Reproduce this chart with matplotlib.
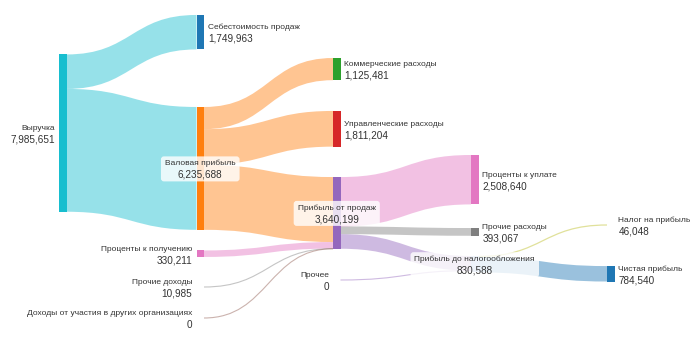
import matplotlib
matplotlib.use("Agg")
import matplotlib.pyplot as plt
from matplotlib.path import Path
from matplotlib.patches import PathPatch, Rectangle, FancyBboxPatch

plt.rcParams['font.family'] = ['Liberation Sans', 'DejaVu Sans']

# ---------------- data ----------------
node_labels = [
    "Выручка", "Себестоимость продаж", "Валовая прибыль",
    "Проценты к получению", "Прочие доходы", "Доходы от участия в других организациях",
    "Коммерческие расходы", "Управленческие расходы", "Прибыль от продаж", "Прочее",
    "Проценты к уплате", "Прочие расходы", "Прибыль до налогообложения",
    "Налог на прибыль", "Чистая прибыль",
]
node_values = [7985651, 1749963, 6235688, 330211, 10985, 0,
               1125481, 1811204, 3640199, 0,
               2508640, 393067, 830588, 46048, 784540]

link_source = [0, 0, 2, 2, 2, 3, 4, 5, 8, 8, 8, 9, 12, 12]
link_target = [1, 2, 6, 7, 8, 8, 8, 8, 10, 11, 12, 12, 13, 14]
link_values = [1749963, 6235688, 1125481, 1811204, 3299003, 330211, 10985, 0,
               2508640, 393067, 738492, 0, 46048, 784540]

# ---------------- styles / layout ----------------
node_colors = ["#17becf", "#1f77b4", "#ff7f0e", "#e377c2", "#7f7f7f", "#8c564b",
               "#2ca02c", "#d62728", "#9467bd", "#9467bd",
               "#e377c2", "#7f7f7f", "#aec7e8", "#bcbd22", "#1f77b4"]
link_colors = ["#17becf", "#17becf", "#ff7f0e", "#ff7f0e", "#ff7f0e", "#e377c2",
               "#7f7f7f", "#8c564b", "#e377c2", "#7f7f7f", "#9467bd", "#9467bd",
               "#bcbd22", "#1f77b4"]
node_col = [0, 1, 1, 1, 1, 1, 2, 2, 2, 2, 3, 3, 3, 4, 4]
# node centres (plotly-like node.y, in pixel units of a 350px-high canvas)
node_yc = [133.1, 32.2, 168.4, 253.7, 287, 318, 69.1, 128.8, 212.9, 280,
           179.7, 231.9, 264.2, 225, 273.8]
label_mode = ['left', 'right', 'box', 'left', 'left', 'left', 'right', 'right', 'box', 'left',
              'right', 'right', 'box', 'right', 'right']
col_x = [59, 196.5, 333, 471, 607]
node_w = 7.5
scale = 157.3 / node_values[0]
W, H = 700, 350

fig = plt.figure(figsize=(7, 3.5), dpi=100)
ax = fig.add_axes([0, 0, 1, 1])
ax.set_xlim(0, W)
ax.set_ylim(H, 0)
ax.axis('off')

n = len(node_labels)
top = [node_yc[i] - node_values[i] * scale / 2 for i in range(n)]
x0 = [col_x[c] for c in node_col]

# stacking offsets
out_off = list(top)
in_off = list(top)
order_out = sorted(range(len(link_values)), key=lambda k: (link_source[k], node_yc[link_target[k]]))
src_y = {}
for k in order_out:
    s = link_source[k]
    h = link_values[k] * scale
    src_y[k] = (out_off[s], out_off[s] + h)
    out_off[s] += h
order_in = sorted(range(len(link_values)), key=lambda k: (link_target[k], node_yc[link_source[k]]))
tgt_y = {}
for k in order_in:
    t = link_target[k]
    h = link_values[k] * scale
    tgt_y[k] = (in_off[t], in_off[t] + h)
    in_off[t] += h

for k in range(len(link_values)):
    s, t = link_source[k], link_target[k]
    xa = x0[s] + node_w
    xb = x0[t]
    xm = (xa + xb) / 2
    (ya0, ya1), (yb0, yb1) = src_y[k], tgt_y[k]
    h = link_values[k] * scale
    if h < 1.0:
        yc_a = (ya0 + ya1) / 2
        yc_b = (yb0 + yb1) / 2
        verts = [(xa, yc_a), (xm, yc_a), (xm, yc_b), (xb, yc_b)]
        codes = [Path.MOVETO, Path.CURVE4, Path.CURVE4, Path.CURVE4]
        ax.add_patch(PathPatch(Path(verts, codes), facecolor='none',
                               edgecolor=link_colors[k], alpha=0.45, lw=max(h, 0.8), zorder=1))
    else:
        verts = [(xa, ya0), (xm, ya0), (xm, yb0), (xb, yb0),
                 (xb, yb1), (xm, yb1), (xm, ya1), (xa, ya1), (xa, ya0)]
        codes = [Path.MOVETO, Path.CURVE4, Path.CURVE4, Path.CURVE4,
                 Path.LINETO, Path.CURVE4, Path.CURVE4, Path.CURVE4, Path.CLOSEPOLY]
        ax.add_patch(PathPatch(Path(verts, codes), facecolor=link_colors[k],
                               edgecolor='none', alpha=0.45, zorder=1))

for i in range(n):
    h = node_values[i] * scale
    if h > 0.5:
        ax.add_patch(Rectangle((x0[i], top[i]), node_w, h, facecolor=node_colors[i],
                               edgecolor='none', zorder=2))

tc = '#333333'
f1, f2 = 6.0, 7.2
d1, d2 = -3.0, 9.5
for i in range(n):
    yc = node_yc[i]
    val = f"{node_values[i]:,}"
    mode = label_mode[i]
    if mode == 'right':
        xt = x0[i] + node_w + 4
        ax.text(xt, yc + d1, node_labels[i], fontsize=f1, color=tc, ha='left', va='baseline', zorder=4)
        ax.text(xt, yc + d2, val, fontsize=f2, color=tc, ha='left', va='baseline', zorder=4)
    elif mode == 'left':
        xt = x0[i] - 4
        ax.text(xt, yc + d1, node_labels[i], fontsize=f1, color=tc, ha='right', va='baseline', zorder=4)
        ax.text(xt, yc + d2, val, fontsize=f2, color=tc, ha='right', va='baseline', zorder=4)
    else:
        xc = x0[i] + node_w / 2
        t1 = ax.text(xc, yc + d1, node_labels[i], fontsize=f1, color=tc, ha='center', va='baseline', zorder=4)
        t2 = ax.text(xc, yc + d2, val, fontsize=f2, color=tc, ha='center', va='baseline', zorder=4)
        fig.canvas.draw()
        r = fig.canvas.get_renderer()
        b1 = t1.get_window_extent(r)
        b2 = t2.get_window_extent(r)
        wpx = max(b1.width, b2.width) + 8
        hpx = 25
        ax.add_patch(FancyBboxPatch((xc - wpx / 2, yc - hpx / 2 + 0.5), wpx, hpx,
                                    boxstyle="round,pad=0,rounding_size=3",
                                    facecolor='white', edgecolor='none', alpha=0.8, zorder=3))

fig.savefig("out.png", dpi=100)
